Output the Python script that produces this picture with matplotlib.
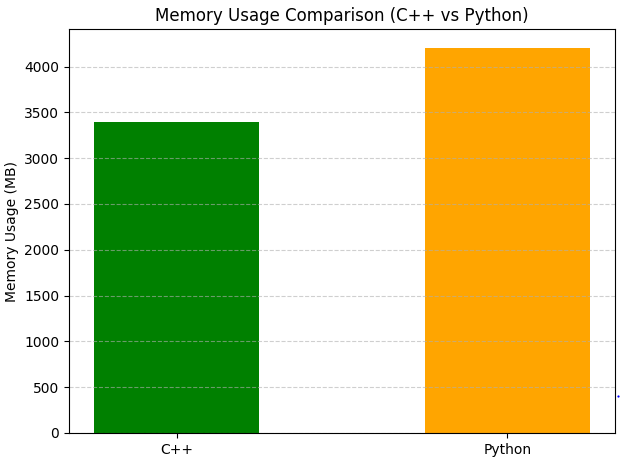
import matplotlib
matplotlib.use('Agg')
import matplotlib.pyplot as plt
from matplotlib.lines import Line2D

languages = ['C++', 'Python']
memory_mb = [3400, 4200]
colors = ['green', 'orange']

fig = plt.figure(figsize=(6.26, 4.68), dpi=100)
plt.bar(languages, memory_mb, color=colors, width=0.5)
plt.ylabel('Memory Usage (MB)')
plt.title('Memory Usage Comparison (C++ vs Python)')
plt.grid(axis='y', linestyle='--', alpha=0.6)
plt.subplots_adjust(left=0.1102, right=0.9824, top=0.938, bottom=0.0748)

# small stray blue dot right of the axes
fig.add_artist(Line2D([618 / 626], [1 - 396 / 468], marker='o', markersize=1.6,
                      color='blue', markeredgewidth=0, linestyle='none',
                      transform=fig.transFigure))

plt.savefig('out.png')
